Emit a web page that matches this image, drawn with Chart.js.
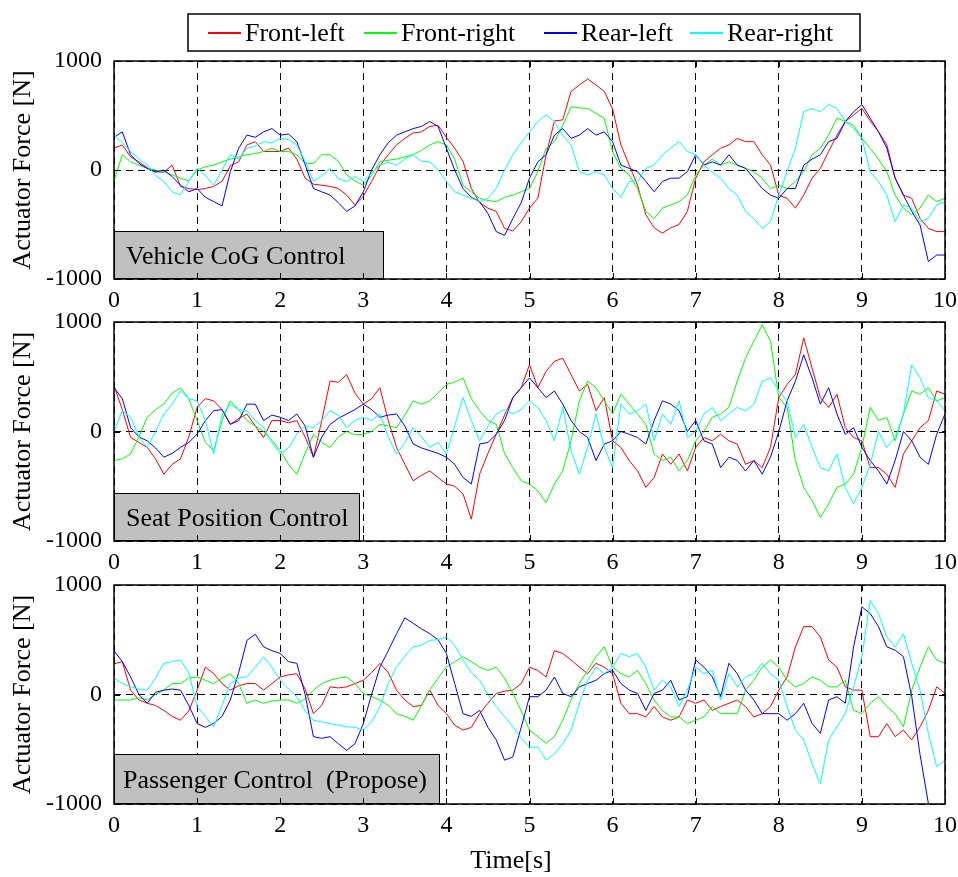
<!DOCTYPE html>
<html><head><meta charset="utf-8">
<script src="https://cdn.jsdelivr.net/npm/chart.js@4"></script>
<style>
html,body{margin:0;padding:0;background:#fff;overflow:hidden;}
#wrap{position:relative;width:958px;height:877px;overflow:hidden;background:#fff;}
canvas{position:absolute;left:0;}
</style></head><body>
<div id="wrap">
<canvas id="c1" width="964" height="320" style="top:0px"></canvas>
<canvas id="c2" width="964" height="300" style="top:282px"></canvas>
<canvas id="c3" width="964" height="332" style="top:545px"></canvas>
</div>
<script>
// ---- data ----
const seriesNames = ['Front-left','Front-right','Rear-left','Rear-right'];
const panelTitles = ['Vehicle CoG Control','Seat Position Control','Passenger Control  (Propose)'];
const xTickLabels = ['0','1','2','3','4','5','6','7','8','9','10'];
const yTickValues = [-1000,0,1000];
const yTickLabels = ['-1000','0','1000'];
const xAxisTitle = 'Time[s]';
const yAxisTitle = 'Actuator Force [N]';
const times = [
 0,0.1,0.2,0.3,0.4,0.5,0.6,0.7,0.8,0.9,
 1,1.1,1.2,1.3,1.4,1.5,1.6,1.7,1.8,1.9,
 2,2.1,2.2,2.3,2.4,2.5,2.6,2.7,2.8,2.9,
 3,3.1,3.2,3.3,3.4,3.5,3.6,3.7,3.8,3.9,
 4,4.1,4.2,4.3,4.4,4.5,4.6,4.7,4.8,4.9,
 5,5.1,5.2,5.3,5.4,5.5,5.6,5.7,5.8,5.9,
 6,6.1,6.2,6.3,6.4,6.5,6.6,6.7,6.8,6.9,
 7,7.1,7.2,7.3,7.4,7.5,7.6,7.7,7.8,7.9,
 8,8.1,8.2,8.3,8.4,8.5,8.6,8.7,8.8,8.9,
 9,9.1,9.2,9.3,9.4,9.5,9.6,9.7,9.8,9.9,
 10];

// Panel 1: Vehicle CoG Control
const cogFL = [
 200,230,120,75,20,-15,-20,45,-150,-170,
 -180,-170,-150,-105,40,75,230,260,170,170,
 170,200,100,-75,-130,-140,-150,-170,-230,-320,
 -240,-105,40,140,230,290,340,350,400,410,
 300,200,80,-170,-300,-350,-380,-535,-560,-475,
 -350,-260,140,450,460,720,780,835,780,720,
 560,230,45,-140,-410,-530,-580,-530,-500,-380,
 -75,75,140,200,230,290,260,260,140,45,
 -230,-260,-350,-230,-75,15,170,320,445,505,
 565,450,350,230,-75,-230,-260,-445,-535,-565,
 -565];
const cogFR = [
 -100,140,75,45,15,0,-15,-45,-75,-100,
 0,30,45,75,100,120,140,150,170,200,
 170,170,140,60,60,140,140,80,-45,-100,
 -140,-50,75,90,100,120,140,180,230,260,
 230,100,-140,-200,-260,-280,-290,-250,-230,-200,
 -170,-15,200,260,410,580,570,565,520,475,
 170,15,-45,-170,-380,-445,-350,-320,-290,-230,
 -45,45,100,45,75,45,15,-15,-75,-170,
 -140,-170,-105,-15,140,200,320,475,445,410,
 290,200,100,-15,-230,-350,-410,-350,-230,-290,
 -260];
const cogRL = [
 300,350,140,60,15,-20,0,-60,-140,-200,
 -170,-250,-290,-330,-15,200,320,300,350,380,
 320,330,260,50,-170,-200,-230,-300,-380,-330,
 -200,0,140,250,320,350,380,400,445,400,
 200,0,-170,-250,-290,-400,-565,-600,-445,-300,
 -75,75,140,320,380,290,320,380,320,350,
 260,45,15,-15,-105,-200,-105,-75,-75,-15,
 140,45,75,45,140,45,15,-75,-170,-230,
 -260,-170,-170,45,100,140,260,290,445,535,
 600,475,350,200,-75,-230,-380,-505,-840,-780,
 -780];
const cogRR = [
 320,250,170,100,45,-50,-105,-200,-230,-100,
 15,-50,-140,0,140,100,200,220,260,250,
 290,280,230,80,-105,-50,15,-80,-105,-60,
 -105,-30,45,70,45,100,140,80,75,0,
 -105,-200,-230,-260,-290,-260,-170,0,140,250,
 350,445,505,445,320,230,-15,-45,-15,-45,
 -170,-250,-105,-105,15,45,140,200,260,170,
 140,45,-20,-75,-170,-230,-380,-445,-535,-475,
 -230,-15,200,535,565,535,600,565,445,380,
 290,-15,-105,-230,-475,-320,-350,-475,-445,-320,
 -290];

// Panel 2: Seat Position Control
const seatFL = [
 420,200,-55,-100,-145,-250,-390,-300,-250,-50,
 220,300,280,200,65,120,160,50,-55,100,
 100,80,100,-50,-235,100,460,450,520,350,
 250,300,400,100,-145,-300,-450,-400,-360,-420,
 -480,-500,-570,-800,-390,-200,-25,150,310,400,
 610,400,550,640,670,520,370,430,190,310,
 -85,-145,-265,-360,-510,-420,-205,-300,-205,-360,
 -145,-55,-85,-25,-85,-115,-300,-265,-330,-145,
 310,430,520,855,580,310,220,340,35,-55,
 -85,-330,-330,-390,-510,-205,-85,35,100,370,
 340];
const seatFR = [
 -265,-250,-205,-50,130,200,250,350,400,300,
 100,-100,-175,100,280,200,100,50,0,-80,
 -175,-300,-390,-200,-25,-100,-145,-50,0,-30,
 -25,0,65,50,35,150,280,250,280,350,
 430,450,490,300,190,100,65,-200,-330,-450,
 -480,-540,-650,-480,-360,-85,280,460,400,280,
 160,340,250,160,65,-205,-265,-235,-360,-265,
 -85,0,130,160,220,460,670,825,975,825,
 310,220,-265,-510,-630,-785,-660,-510,-480,-390,
 -145,220,100,130,-85,160,370,340,400,280,
 310];
const seatRL = [
 400,300,35,-50,-85,-150,-235,-200,-145,-100,
 -25,100,190,200,65,100,250,250,100,150,
 130,100,160,50,-235,-50,65,120,160,200,
 250,200,130,150,160,50,-115,-150,-175,-200,
 -235,-300,-420,-480,-115,-100,-25,100,310,400,
 490,400,310,370,250,100,0,-55,-265,-115,
 -85,0,-25,-55,-115,100,280,250,190,0,
 100,-85,-115,-330,-235,-265,-360,-265,-390,-235,
 0,280,460,700,490,250,400,160,-25,35,
 -145,-265,-360,-480,-265,0,-85,-235,-300,-25,
 160];
const seatRR = [
 0,190,130,-50,-145,0,160,250,370,300,
 280,100,-205,150,250,200,190,100,35,-100,
 -205,-150,-25,50,35,100,190,150,35,100,
 130,100,160,-50,-205,-100,35,-50,-145,-100,
 -205,50,310,100,-85,50,160,200,160,200,
 280,220,100,-85,220,-175,-390,-145,160,-145,
 -330,250,160,190,250,-85,160,65,280,-55,
 0,160,220,100,160,220,190,250,460,490,
 370,280,-55,65,-145,-330,-360,-205,-510,-660,
 -510,-300,0,-145,-55,160,610,490,310,280,
 190];

// Panel 3: Passenger Control (Propose)
const passFL = [
 280,300,40,-50,-80,-100,-145,-200,-235,-150,
 40,250,190,100,40,80,100,100,40,100,
 160,180,190,50,-175,-100,70,60,70,100,
 130,200,285,200,40,-50,-110,-100,40,-100,
 -175,-280,-325,-300,-175,-80,10,30,40,100,
 250,220,160,400,375,315,250,190,285,250,
 190,-80,-175,-175,-205,-110,-205,-235,-205,-50,
 -80,-50,-145,-110,-80,-50,-110,-205,-175,-110,
 40,160,435,620,620,525,315,250,70,40,
 40,-385,-385,-265,-385,-325,-415,-295,-145,70,
 10];
const passFR = [
 -50,-50,-50,-30,-50,0,40,100,100,150,
 160,130,100,150,190,100,-80,-50,-80,-60,
 -50,-50,-80,-40,40,100,130,150,160,100,
 10,-20,-50,-100,-175,-200,-235,-100,40,150,
 250,300,345,300,250,220,250,150,10,-150,
 -325,-385,-445,-385,-235,-50,100,220,345,435,
 250,190,160,220,100,-50,-145,-205,-205,-265,
 -235,-205,-110,-175,-175,-175,40,130,250,315,
 250,130,70,100,160,130,70,70,130,-145,
 -175,-80,-20,-110,-175,-295,40,250,435,315,
 285];
const passRL = [
 400,300,160,0,-80,20,40,50,40,-100,
 -265,-300,-265,-200,-50,200,495,550,435,400,
 375,300,285,0,-385,-400,-385,-450,-510,-450,
 -265,0,250,400,555,700,650,600,555,500,
 375,100,-175,-200,-145,-300,-415,-600,-570,-300,
 -20,-20,40,160,10,-20,70,100,130,190,
 220,100,40,10,-145,10,40,130,-50,-20,
 315,250,160,-20,285,190,40,-50,-175,-175,
 -175,-235,-175,-80,-265,-355,-50,-20,-80,435,
 800,740,620,435,405,345,-20,-550,-995,-1100,
 -1100];
const passRR = [
 150,100,70,50,40,150,285,300,315,200,
 -110,-200,-295,-100,100,150,160,250,345,250,
 130,50,-20,-150,-235,-250,-265,-280,-295,-300,
 -325,-250,-110,100,250,350,435,450,495,500,
 525,450,315,200,130,0,-110,-200,-295,-400,
 -480,-480,-600,-540,-450,-325,-80,130,250,190,
 250,375,345,375,250,40,130,70,-110,40,
 250,190,220,-50,190,70,160,190,285,190,
 130,-110,-325,-415,-630,-815,-415,-295,-175,70,
 345,860,740,525,435,555,285,40,-355,-660,
 -600];

const panels = [
  [cogFL, cogFR, cogRL, cogRR],
  [seatFL, seatFR, seatRL, seatRR],
  [passFL, passFR, passRL, passRR]
];

// ---- style ----
const colors = ['#ff0000','#00ff00','#0000ff','#00ffff'];
const FONT = "'Liberation Serif','Times New Roman',serif";
const canvasIds = ['c1','c2','c3'];
const padTops = [61,40,40];
const xHeights = [41,41,73];
const boxSizes = [[269,48],[245,48],[325,50]];

function makePlugin(p){
  return {
    id:'deco'+p,
    afterDatasetsDraw(chart){
      const ctx = chart.ctx;
      const {left,top,right,bottom} = chart.chartArea;
      const xs = chart.scales.x, ys = chart.scales.y;
      ctx.save();
      // label box
      const [bw,bh] = boxSizes[p];
      ctx.fillStyle = '#c0c0c0';
      ctx.fillRect(left, bottom-bh, bw, bh);
      ctx.strokeStyle = '#000';
      ctx.lineWidth = 1;
      ctx.strokeRect(left+0.5, bottom-bh+0.5, bw, bh-1);
      ctx.fillStyle = '#000';
      ctx.font = '26px ' + FONT;
      ctx.textAlign = 'left';
      ctx.textBaseline = 'middle';
      ctx.fillText(panelTitles[p], left + (p===2 ? 9 : 12), bottom - bh/2 + 2);
      // inward tick marks
      ctx.lineWidth = 1;
      xs.ticks.forEach(t=>{
        const px = Math.round(xs.getPixelForValue(t.value))+0.5;
        ctx.beginPath();
        ctx.moveTo(px,bottom); ctx.lineTo(px,bottom-6);
        ctx.moveTo(px,top); ctx.lineTo(px,top+6);
        ctx.stroke();
      });
      ys.ticks.forEach(t=>{
        const py = Math.round(ys.getPixelForValue(t.value))+0.5;
        ctx.beginPath();
        ctx.moveTo(left,py); ctx.lineTo(left+6,py);
        ctx.moveTo(right,py); ctx.lineTo(right-6,py);
        ctx.stroke();
      });
      // frame
      ctx.lineWidth = 1.5;
      ctx.strokeRect(left, top, right-left, bottom-top);
      ctx.restore();
    },
    afterDraw(chart){
      const ctx = chart.ctx;
      ctx.save();
      if (p===0){
        // legend
        ctx.strokeStyle = '#000';
        ctx.lineWidth = 1.5;
        ctx.strokeRect(188, 14, 672, 37);
        const lineX = [208,364,544,690];
        ctx.font = '26px ' + FONT;
        ctx.textAlign = 'left';
        ctx.textBaseline = 'middle';
        seriesNames.forEach((n,i)=>{
          ctx.strokeStyle = colors[i];
          ctx.lineWidth = 2;
          ctx.beginPath(); ctx.moveTo(lineX[i],33); ctx.lineTo(lineX[i]+33,33); ctx.stroke();
          ctx.fillStyle = '#000';
          ctx.fillText(n, lineX[i]+37, 34);
        });
      }
      if (p===2){
        ctx.fillStyle = '#000';
        ctx.font = '26px ' + FONT;
        ctx.textAlign = 'center';
        ctx.textBaseline = 'middle';
        ctx.fillText(xAxisTitle, 511, 316);
      }
      ctx.restore();
    }
  };
}

panels.forEach((series,p)=>{
  const datasets = series.map((vals,i)=>({
    label: seriesNames[i],
    data: vals.map((v,k)=>({x: times[k], y: v})),
    borderColor: colors[i],
    backgroundColor: colors[i],
    borderWidth: 1,
    pointRadius: 0,
    tension: 0,
    fill: false,
    order: 3-i
  }));
  new Chart(document.getElementById(canvasIds[p]), {
    type:'line',
    data:{datasets},
    plugins:[makePlugin(p)],
    options:{
      responsive:false,
      animation:false,
      devicePixelRatio:1,
      layout:{autoPadding:false, padding:{top:padTops[p], right:14, left:0, bottom:0}},
      plugins:{legend:{display:false}, tooltip:{enabled:false}},
      scales:{
        x:{
          type:'linear', min:0, max:10,
          afterFit(a){ a.height = xHeights[p]; },
          ticks:{stepSize:1, color:'#000', padding:7, maxRotation:0, autoSkip:false,
            font:{family:FONT, size:24},
            callback:(v)=> xTickLabels[Math.round(v)] },
          grid:{color:'#000', lineWidth:1, drawTicks:false},
          border:{display:false, dash:[7,5]}
        },
        y:{
          type:'linear', min:-1000, max:1000,
          afterFit(a){ a.width = 114; },
          ticks:{stepSize:1000, color:'#000', padding:12,
            font:{family:FONT, size:24},
            callback:(v)=>{ const i = yTickValues.indexOf(v); return i>=0 ? yTickLabels[i] : ''; } },
          grid:{color:'#000', lineWidth:1, drawTicks:false},
          border:{display:false, dash:[7,5]},
          title:{display:true, text:yAxisTitle, color:'#000', font:{family:FONT, size:26}, padding:{top:8,bottom:0}}
        }
      }
    }
  });
});
</script>
</body></html>
